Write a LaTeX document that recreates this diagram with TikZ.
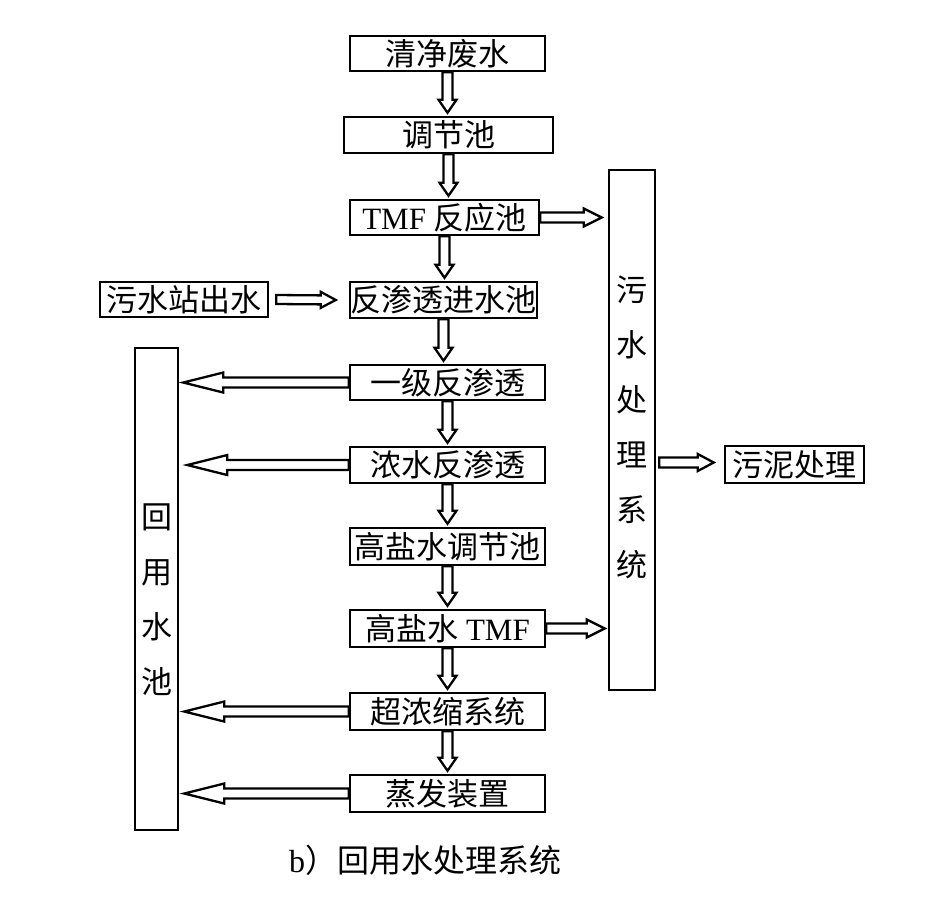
\documentclass[tikz,border=0pt]{standalone}
\usepackage{fontspec}
\setmainfont{Liberation Serif}
\newfontfamily\cjk{Noto Sans CJK SC}
\usetikzlibrary{calc}
\tikzset{
  box/.style={draw, line width=2.5pt, inner sep=0pt, font=\fontsize{31}{36}\selectfont},
  arrowline/.style={draw, line width=2.3pt, line join=miter},
  vtext/.style={inner sep=0pt, align=center, font=\cjk\fontsize{31}{55}\selectfont},
}
% hollow block arrow: start, tip, shaft half width, head half width, head length
\newcommand\blockarrow[5]{%
  \coordinate (hA) at (#1);
  \coordinate (hB) at (#2);
  \coordinate (hH) at ($(hB)!#5!(hA)$);
  \draw[arrowline] ($(hA)!#3!90:(hB)$) -- ($(hH)!#3!90:(hB)$) -- ($(hH)!#4!90:(hB)$) -- (hB)
    -- ($(hH)!#4!-90:(hB)$) -- ($(hH)!#3!-90:(hB)$) -- ($(hA)!#3!-90:(hB)$) -- cycle;
}
\begin{document}
\begin{tikzpicture}[x=1pt,y=-1pt]
\useasboundingbox[fill=white] (0,0) rectangle (945,898);

% main column
\node[box, minimum width=195pt, minimum height=35pt] (s1) at (447.5,53.5) {\cjk 清净废水};
\node[box, minimum width=209pt, minimum height=36pt] (s2) at (448.5,135) {\cjk 调节池};
\node[box, minimum width=189pt, minimum height=35pt] (s3) at (444.5,217.5) {TMF {\cjk 反应池}};
\node[box, minimum width=187pt, minimum height=36pt] (s4) at (443.5,300) {\cjk 反渗透进水池};
\node[box, minimum width=195pt, minimum height=35pt] (s5) at (447.5,382.5) {\cjk 一级反渗透};
\node[box, minimum width=195pt, minimum height=36pt] (s6) at (447.5,465) {\cjk 浓水反渗透};
\node[box, minimum width=195pt, minimum height=37pt] (s7) at (447.5,546.5) {\cjk 高盐水调节池};
\node[box, minimum width=195pt, minimum height=37pt] (s8) at (447.5,628.5) {{\cjk 高盐水} TMF};
\node[box, minimum width=195pt, minimum height=37pt] (s9) at (447.5,711.5) {\cjk 超浓缩系统};
\node[box, minimum width=195pt, minimum height=37pt] (s10) at (447.5,793.5) {\cjk 蒸发装置};

% side boxes
\node[box, minimum width=168pt, minimum height=35pt] (src) at (184,299.5) {\cjk 污水站出水};
\node[box, minimum width=43pt, minimum height=482pt] (pool) at (156.5,589) {};
\node[vtext] (poolt) at ($(pool.center)+(0,11)$) {回\\用\\水\\池};
\node[box, minimum width=46pt, minimum height=520pt] (sw) at (632,430) {};
\node[vtext] (swt) at ($(sw.center)+(0,-3)$) {污\\水\\处\\理\\系\\统};
\node[box, minimum width=139pt, minimum height=37pt] (sl) at (794.5,464.5) {\cjk 污泥处理};

% caption
\node[inner sep=0pt, font=\fontsize{32}{36}\selectfont] (cap) at (425,860) {b{\cjk ）回用水处理系统}};

% vertical arrows
\foreach \a/\b in {s1/s2, s2/s3, s3/s4, s4/s5, s5/s6, s6/s7, s7/s8, s8/s9, s9/s10}{
  \blockarrow{\a.south}{$(\a.south|-\b.north)+(0,-3)$}{5pt}{9pt}{13pt}
}

% arrows to the wastewater treatment system
\blockarrow{s3.east}{$(sw.west|-s3.east)+(-6,0)$}{5pt}{9pt}{18pt}
\blockarrow{s8.east}{$(sw.west|-s8.east)+(-3,0)$}{5pt}{9pt}{18pt}

% sewage station outlet to RO inlet tank
\blockarrow{$(src.east)+(7,0)$}{$(s4.west)+(-13,0)$}{4.5pt}{8pt}{15pt}

% arrows to the reuse water tank
\foreach \s/\d in {s5/4, s6/8, s9/5, s10/5}{
  \blockarrow{\s.west}{$(pool.east|-\s.west)+(\d,0)$}{5pt}{10pt}{40pt}
}

% to sludge treatment
\blockarrow{$(sw.east|-sl.west)+(3,-2)$}{$(sl.west)+(-10,-2)$}{5pt}{8.5pt}{16pt}
\end{tikzpicture}
\end{document}
